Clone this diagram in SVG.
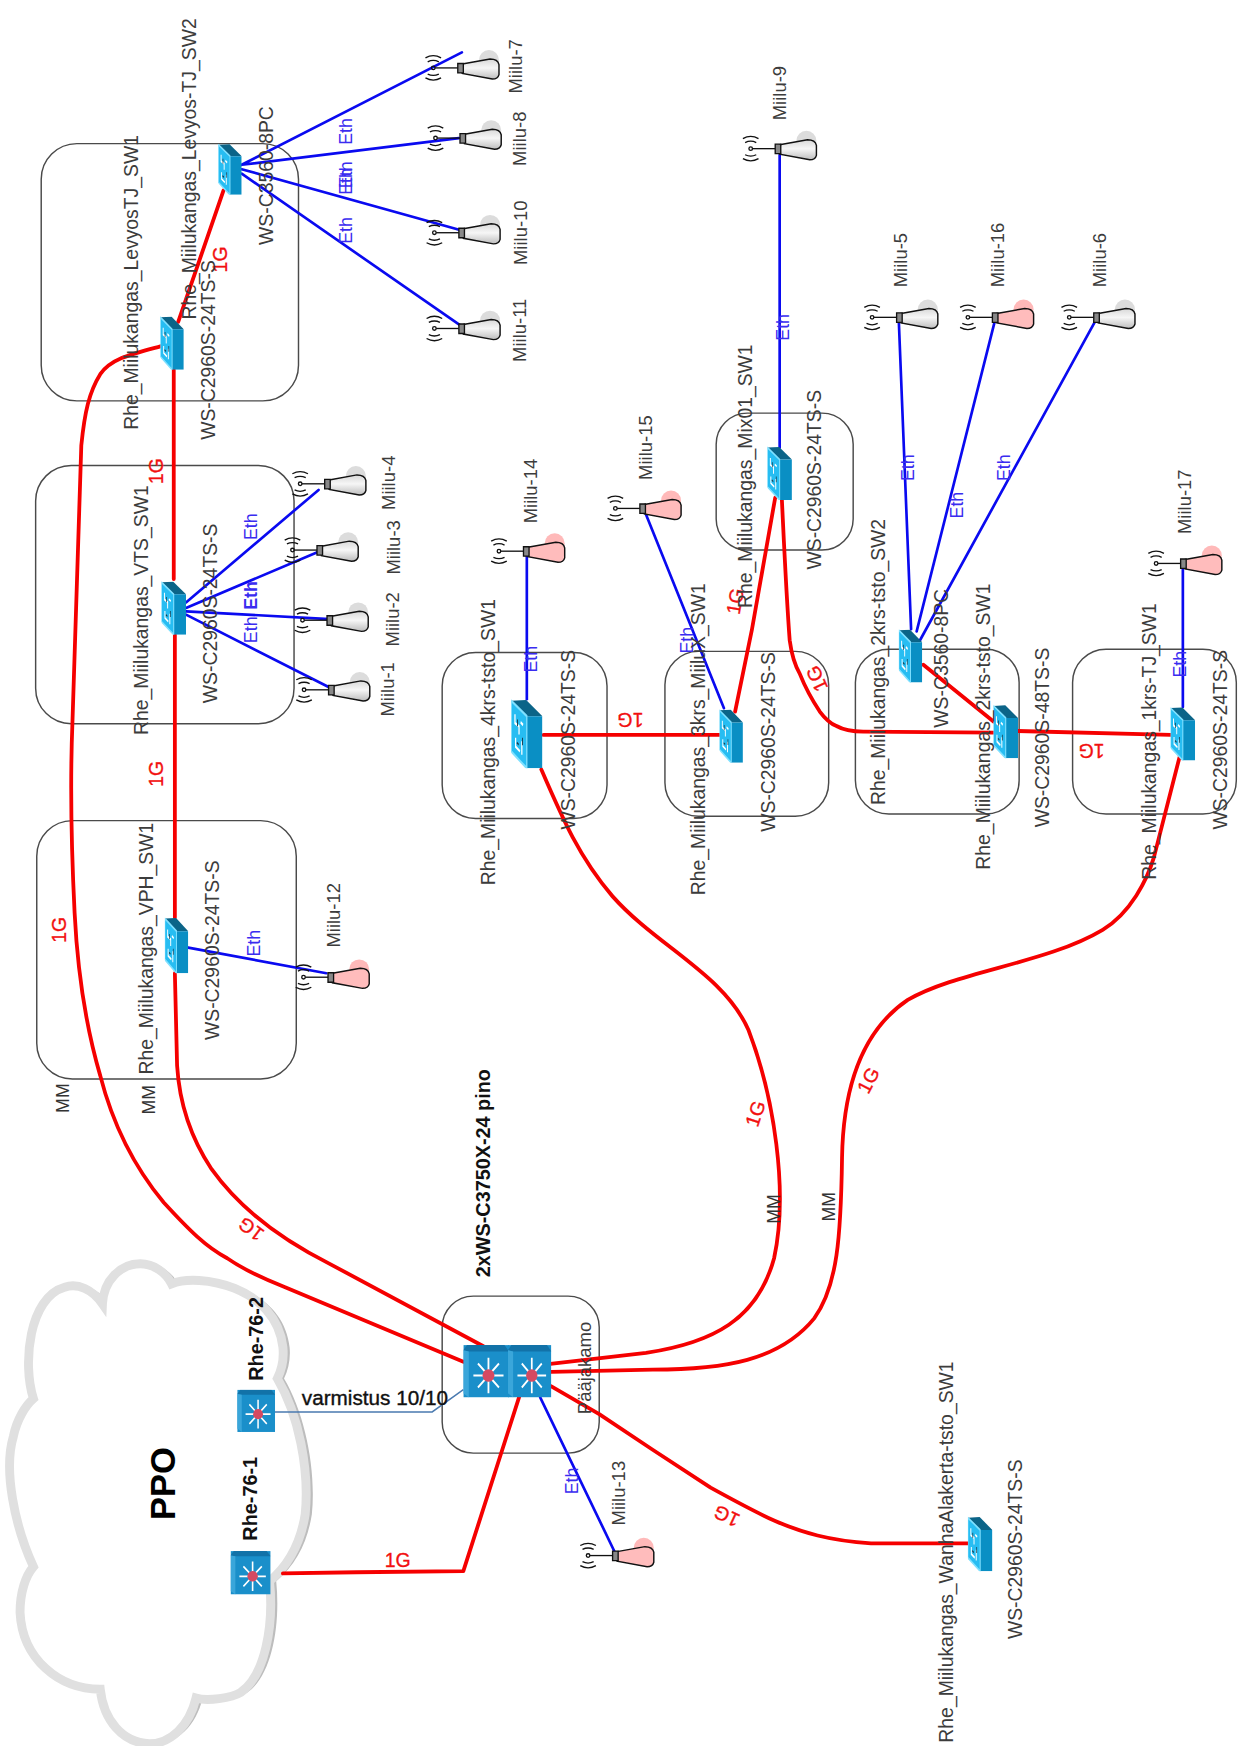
<svg xmlns="http://www.w3.org/2000/svg" xmlns:xlink="http://www.w3.org/1999/xlink" width="1243" height="1746" viewBox="0 0 1243 1746">
<style>
text{font-family:"Liberation Sans",Arial,sans-serif}
.l{font-size:17.4px;fill:#3c3c3c}
.m{font-size:16.6px;fill:#3c3c3c}
.mm{font-size:16px;fill:#333}
.e{font-size:16px;fill:#3a2cf0}
.g{font-size:17.5px;fill:#f21010;text-anchor:middle;stroke:#f21010;stroke-width:.3}
.b{font-size:17.8px;fill:#111;font-weight:bold}
.frame{fill:none;stroke:#4a4a4a;stroke-width:1.3}
.red{fill:none;stroke:#f50000;stroke-width:3.4;stroke-linejoin:round;stroke-linecap:round}
.blue{fill:none;stroke:#0a0af0;stroke-width:2.4;stroke-linecap:round}
</style>
<defs>
<linearGradient id="greyBell" x1="0" y1="0" x2="0" y2="1"><stop offset="0" stop-color="#d8d8d8"/><stop offset=".45" stop-color="#f6f6f6"/><stop offset="1" stop-color="#bdbdbd"/></linearGradient>
<symbol id="sw" viewBox="0 -2 100 102" preserveAspectRatio="none">
<polygon points="0,0 48,-1 100,23 50,23" fill="#0b6488"/>
<polygon points="50,23 100,23 100,100 50,100" fill="#0a8fc4"/>
<polygon points="0,0 50,23 50,100 0,75" fill="#27bdf2" stroke="#7fe0ff" stroke-width="4"/>
<path d="M12,20 L12,33 L25,38 L25,50 M30,32 L38,36 M14,55 L14,68 L28,75 M34,60 L34,80" fill="none" stroke="#fff" stroke-width="4"/>
<path d="M20,28 L20,38 M36,55 L36,66 M18,62 L24,65" fill="none" stroke="#1a3a4a" stroke-width="3"/>
</symbol>
<symbol id="rt" viewBox="0 0 100 100" preserveAspectRatio="none">
<rect width="100" height="100" fill="#1a8fca"/>
<polygon points="0,10 8,0 90,0 100,12 12,12" fill="#1272a8"/>
<polygon points="0,10 12,12 12,100 0,92" fill="#3aa6da"/>
<path d="M55,24 V92 M22,58 H88 M32,35 L78,81 M78,35 L32,81" stroke="#fff" stroke-width="4" fill="none"/>
<ellipse cx="55" cy="58" rx="13" ry="12" fill="#d44a62"/>
</symbol>
<g id="waves" fill="none" stroke="#111" stroke-width="1.2">
<path d="M-5,-5.5 Q0,-8 5,-5.5 M-7,-9 Q0,-13 7,-9 M-5,5.5 Q0,8 5,5.5 M-7,9 Q0,13 7,9"/>
<circle r="1.6"/>
<path d="M1.6,0 H22"/>
<path d="M22,-4 H27 V4.5 H22 Z" fill="#888"/>
</g>
<path id="bell" d="M26,-3.5 L51,-8 Q58,-8 59,-3 L59,6 Q58,10 53,10 L26,5 Z" stroke="#111" stroke-width="1.3"/>
<g id="antG"><circle cx="50" cy="-7" r="9" fill="#dcdcdc"/><use href="#bell" fill="url(#greyBell)"/><use href="#waves"/></g>
<g id="antP"><circle cx="50" cy="-7" r="9" fill="#ffb9b9"/><use href="#bell" fill="#ffbcbc"/><use href="#waves"/></g>
<path id="cloudP" d="M94 1171 C95 1150 110 1135 128 1135 C140 1135 151 1143 156 1153 C180 1143 250 1155 256 1210 C257 1220 255 1230 251 1238 C270 1270 280 1320 276 1360 C272 1385 262 1405 244 1420 C248 1460 240 1505 218 1520 C210 1525 188 1528 178 1525 C172 1550 155 1566 136 1566 C112 1565 95 1545 92 1517 C55 1517 22 1490 20 1448 C20 1430 25 1415 32 1407 C15 1370 5 1320 14 1290 C17 1275 25 1262 32 1256 C22 1225 28 1165 60 1156 C72 1152 85 1158 94 1171 Z"/>
</defs>
<rect width="1243" height="1746" fill="#fff"/>
<g transform="scale(1.1138,1.1135)">

<g id="cloud">
<use href="#cloudP" fill="#bdbdbd" transform="translate(4,0)"/>
<use href="#cloudP" fill="#fff" stroke="#e0e0e0" stroke-width="8" transform="translate(-2,0)"/>
<text transform="translate(157,1365) rotate(-90)" style="font-size:31px;font-weight:bold;fill:#000">PPO</text>
</g>

<g id="frames">
<rect class="frame" x="37" y="129" width="231" height="231" rx="32"/>
<rect class="frame" x="32" y="418" width="232" height="232" rx="32"/>
<rect class="frame" x="33" y="737" width="233" height="232" rx="32"/>
<rect class="frame" x="397" y="1164" width="141" height="141" rx="28"/>
<rect class="frame" x="397" y="586" width="148" height="149" rx="30"/>
<rect class="frame" x="597" y="585" width="147" height="148" rx="30"/>
<rect class="frame" x="768" y="583" width="147" height="148" rx="30"/>
<rect class="frame" x="963" y="583" width="147" height="148" rx="30"/>
<rect class="frame" x="643" y="371" width="123" height="123" rx="28"/>
</g>

<g id="connectors">
<path class="red" d="M144,311 C118,318 100,322 90,336 C80,352 76,370 73,400 L65,650 C63,700 64,760 67,820 C70,880 78,925 90,966 C100,1005 118,1045 147,1080 C170,1105 185,1120 204,1130 C220,1141 238,1149 256,1156 L416,1223"/>
<path class="red" d="M156,332 L156,520 M157,570 L157,824 M157,874 L159,957 C161,990 170,1020 190,1050 C215,1085 250,1112 296,1135 L434,1209"/>
<path class="red" d="M160,289 L200.7,171"/>
<path class="red" d="M466,1255 L416,1411 L320,1412 L254,1413"/>
<path class="red" d="M459,1229 L580,1215 C640,1206 680,1185 695,1130 C708,1070 695,985 672,925 C650,875 590,850 550,805 C520,770 505,735 486,691"/>
<path class="red" d="M495,1232 L586,1230 C650,1230 700,1222 731,1184 C752,1155 755,1110 756,1040 C757,975 775,925 815,898 C860,872 940,865 990,835 C1015,820 1030,790 1036,770 L1059,680"/>
<path class="red" d="M495,1245 L538,1270 L586,1302 L638,1336 C658,1347 678,1358 696,1366 C710,1372 722,1376 734,1379 C750,1383 766,1385 782,1386 L869,1386"/>
<path class="red" d="M488,660 L646,660"/>
<path class="red" d="M660,639 L675,566 L696,447"/>
<path class="red" d="M702,449 C704,490 706,535 709,575 C711,590 714,598 718,605 C724,620 730,630 736,639 C742,647 746,650 751,652 C758,656 766,657 775,657 L892,658"/>
<path class="red" d="M829,597 L892,648"/>
<path class="red" d="M913.5,656.5 L1051,660"/>
<g>
<path class="blue" d="M217,148 L414.7,47 M217,148 L412,124 M217,152 L413,206.6 M217,156 L413,292"/>
<path class="blue" d="M167,541 L286,440 M167,546 L287,495 M167,549 L296,556 M167,552 L295,617"/>
<path class="blue" d="M169,851 L293,874"/>
<path class="blue" d="M473,495 L473,628"/>
<path class="blue" d="M650,636 L580,462"/>
<path class="blue" d="M700,139 L700,402"/>
<path class="blue" d="M807,289 L818,565 M893,289 L823,567 M983,289 L826,575"/>
<path class="blue" d="M1062,509 L1062,635"/>
<path class="blue" d="M485,1255 L552,1394"/>
</g>
<path d="M416,1248 L388,1268 L244,1268" fill="none" stroke="#4a7ab0" stroke-width="1.3"/>
</g>

<g id="connector-labels">
<g class="c">
<text class="g" transform="translate(204,233) rotate(-90)">1G</text>
<text class="g" transform="translate(146,423) rotate(-90)">1G</text>
<text class="g" transform="translate(146,695) rotate(-90)">1G</text>
<text class="g" transform="translate(59,835) rotate(-90)">1G</text>
<text class="g" transform="translate(229,1099) rotate(217)">1G</text>
<text class="g" transform="translate(655,1356) rotate(205)">1G</text>
<text class="g" transform="translate(684,1002) rotate(-72)">1G</text>
<text class="g" transform="translate(785,973) rotate(-62)">1G</text>
<text class="g" transform="translate(357,1407)">1G</text>
<text class="g" transform="translate(566,640) rotate(180)">1G</text>
<text class="g" transform="translate(980,668) rotate(180)">1G</text>
<text class="g" transform="translate(666,541) rotate(-80)">1G</text>
<text class="g" transform="translate(739,607) rotate(-115)">1G</text>
</g>
<text class="e" transform="translate(316,130) rotate(-90)">Eth</text>
<text class="e" transform="translate(316,175) rotate(-90)">Eth</text>
<text class="e" transform="translate(316,169) rotate(-90)">Eth</text>
<text class="e" transform="translate(316,219) rotate(-90)">Eth</text>
<text class="e" transform="translate(230.6,485) rotate(-90)">Eth</text>
<text class="e" style="font-weight:bold" transform="translate(230.6,547.7) rotate(-90)">Eth</text>
<text class="e" transform="translate(230.6,577.6) rotate(-90)">Eth</text>
<text class="e" transform="translate(233.6,859) rotate(-90)">Eth</text>
<text class="e" transform="translate(482,604) rotate(-90)">Eth</text>
<text class="e" transform="translate(622.5,587) rotate(-90)">Eth</text>
<text class="e" transform="translate(708,306) rotate(-90)">Eth</text>
<text class="e" transform="translate(821,432) rotate(-90)">Eth</text>
<text class="e" transform="translate(865,465.6) rotate(-90)">Eth</text>
<text class="e" transform="translate(907,432) rotate(-90)">Eth</text>
<text class="e" transform="translate(1064.5,608.5) rotate(-90)">Eth</text>
<text class="e" transform="translate(519,1342) rotate(-90)">Eth</text>
<text class="mm" transform="translate(62,999.5) rotate(-90)">MM</text>
<text class="mm" transform="translate(139,1001) rotate(-90)">MM</text>
<text class="mm" transform="translate(700,1099) rotate(-90)">MM</text>
<text class="mm" transform="translate(750,1097) rotate(-90)">MM</text>
<text class="b" x="271" y="1262" style="font-weight:normal;font-size:18.6px;stroke:#111;stroke-width:.35">varmistus 10/10</text>
</g>

<g id="sw-levyos-tj-sw2"><use href="#sw" x="196" y="129" width="21" height="46"/>
<text class="l" transform="translate(176,287) rotate(-90)">Rhe_Miilukangas_Levyos-TJ_SW2</text>
<text class="l" transform="translate(245,220) rotate(-90)">WS-C3560-8PC</text></g>
<g id="sw-levyos-tj-sw1"><use href="#sw" x="144" y="284" width="21" height="48"/>
<text class="l" transform="translate(124,386) rotate(-90)">Rhe_Miilukangas_LevyosTJ_SW1</text>
<text class="l" transform="translate(193,395) rotate(-90)">WS-C2960S-24TS-S</text></g>
<g id="sw-vts"><use href="#sw" x="145" y="522" width="22" height="48"/>
<text class="l" transform="translate(133,660) rotate(-90)">Rhe_Miilukangas_VTS_SW1</text>
<text class="l" transform="translate(195,631.5) rotate(-90)">WS-C2960S-24TS-S</text></g>
<g id="sw-vph"><use href="#sw" x="148" y="824" width="21" height="50"/>
<text class="l" transform="translate(137,965) rotate(-90)">Rhe_Miilukangas_VPH_SW1</text>
<text class="l" transform="translate(197,934) rotate(-90)">WS-C2960S-24TS-S</text></g>
<g id="sw-4krs"><use href="#sw" x="459" y="628" width="28" height="62"/>
<text class="l" transform="translate(444,795) rotate(-90)">Rhe_Miilukangas_4krs-tsto_SW1</text>
<text class="l" transform="translate(516,745) rotate(-90)">WS-C2960S-24TS-S</text></g>
<g id="sw-3krs"><use href="#sw" x="646" y="637" width="21" height="48"/>
<text class="l" transform="translate(633,804) rotate(-90)">Rhe_Miilukangas_3krs_MiiluX_SW1</text>
<text class="l" transform="translate(696,747) rotate(-90)">WS-C2960S-24TS-S</text></g>
<g id="sw-2krs-sw2"><use href="#sw" x="807" y="565" width="21" height="48"/>
<text class="l" transform="translate(795,723) rotate(-90)">Rhe_Miilukangas_2krs-tsto_SW2</text>
<text class="l" transform="translate(851,653.5) rotate(-90)">WS-C3560-8PC</text></g>
<g id="sw-2krs-sw1"><use href="#sw" x="892" y="633" width="22" height="48"/>
<text class="l" transform="translate(889,781) rotate(-90)">Rhe_Miilukangas_2krs-tsto_SW1</text>
<text class="l" transform="translate(942,743) rotate(-90)">WS-C2960S-48TS-S</text></g>
<g id="sw-1krs"><use href="#sw" x="1051" y="635" width="22" height="48"/>
<text class="l" transform="translate(1038,790) rotate(-90)">Rhe_Miilukangas_1krs-TJ_SW1</text>
<text class="l" transform="translate(1102,745) rotate(-90)">WS-C2960S-24TS-S</text></g>
<g id="sw-mix01"><use href="#sw" x="689" y="401" width="22" height="48"/>
<text class="l" transform="translate(675,546) rotate(-90)">Rhe_Miilukangas_Mix01_SW1</text>
<text class="l" transform="translate(737.5,511.5) rotate(-90)">WS-C2960S-24TS-S</text></g>
<g id="sw-wanha"><use href="#sw" x="869" y="1362" width="22" height="49"/>
<text class="l" transform="translate(856,1565) rotate(-90)">Rhe_Miilukangas_WanhaAlakerta-tsto_SW1</text>
<text class="l" transform="translate(918,1472) rotate(-90)">WS-C2960S-24TS-S</text></g>

<g id="core">
<use href="#rt" x="416" y="1208" width="41" height="47"/>
<use href="#rt" x="456" y="1208" width="39" height="47"/>
<text class="b" transform="translate(440,1147) rotate(-90)">2xWS-C3750X-24 pino</text>
<text class="m" transform="translate(531,1270) rotate(-90)">Pääjakamo</text>
</g>
<g id="rhe-76-2"><use href="#rt" x="213" y="1248" width="34" height="38"/>
<text class="b" transform="translate(236,1240) rotate(-90)">Rhe-76-2</text></g>
<g id="rhe-76-1"><use href="#rt" x="207" y="1393" width="36" height="39"/>
<text class="b" transform="translate(231,1383.6) rotate(-90)">Rhe-76-1</text></g>

<g id="miilu-1"><use href="#antG" x="273" y="619.5"/><text class="m" transform="translate(354,643.5) rotate(-90)">Miilu-1</text></g>
<g id="miilu-2"><use href="#antG" x="271.6" y="557"/><text class="m" transform="translate(358,580.6) rotate(-90)">Miilu-2</text></g>
<g id="miilu-3"><use href="#antG" x="262.6" y="494"/><text class="m" transform="translate(359,516) rotate(-90)">Miilu-3</text></g>
<g id="miilu-4"><use href="#antG" x="269.5" y="434.5"/><text class="m" transform="translate(355,458) rotate(-90)">Miilu-4</text></g>
<g id="miilu-5"><use href="#antG" x="783" y="285"/><text class="m" transform="translate(814.5,258) rotate(-90)">Miilu-5</text></g>
<g id="miilu-6"><use href="#antG" x="960" y="285"/><text class="m" transform="translate(992.6,258) rotate(-90)">Miilu-6</text></g>
<g id="miilu-7"><use href="#antG" x="389" y="61"/><text class="m" transform="translate(469,84) rotate(-90)">Miilu-7</text></g>
<g id="miilu-8"><use href="#antG" x="391" y="124"/><text class="m" transform="translate(472.5,149) rotate(-90)">Miilu-8</text></g>
<g id="miilu-9"><use href="#antG" x="674" y="133.5"/><text class="m" transform="translate(706,108) rotate(-90)">Miilu-9</text></g>
<g id="miilu-10"><use href="#antG" x="390" y="209"/><text class="m" transform="translate(473,238) rotate(-90)">Miilu-10</text></g>
<g id="miilu-11"><use href="#antG" x="390" y="295"/><text class="m" transform="translate(472,325) rotate(-90)">Miilu-11</text></g>
<g id="miilu-12"><use href="#antP" x="272.5" y="877.6"/><text class="m" transform="translate(305,851) rotate(-90)">Miilu-12</text></g>
<g id="miilu-13"><use href="#antP" x="528" y="1397"/><text class="m" transform="translate(561,1370) rotate(-90)">Miilu-13</text></g>
<g id="miilu-14"><use href="#antP" x="448" y="495"/><text class="m" transform="translate(482,470) rotate(-90)">Miilu-14</text></g>
<g id="miilu-15"><use href="#antP" x="552.5" y="456.6"/><text class="m" transform="translate(585,431) rotate(-90)">Miilu-15</text></g>
<g id="miilu-16"><use href="#antP" x="869" y="285"/><text class="m" transform="translate(901.5,258) rotate(-90)">Miilu-16</text></g>
<g id="miilu-17"><use href="#antP" x="1038" y="506"/><text class="m" transform="translate(1069,479.6) rotate(-90)">Miilu-17</text></g>
</g>
</svg>
